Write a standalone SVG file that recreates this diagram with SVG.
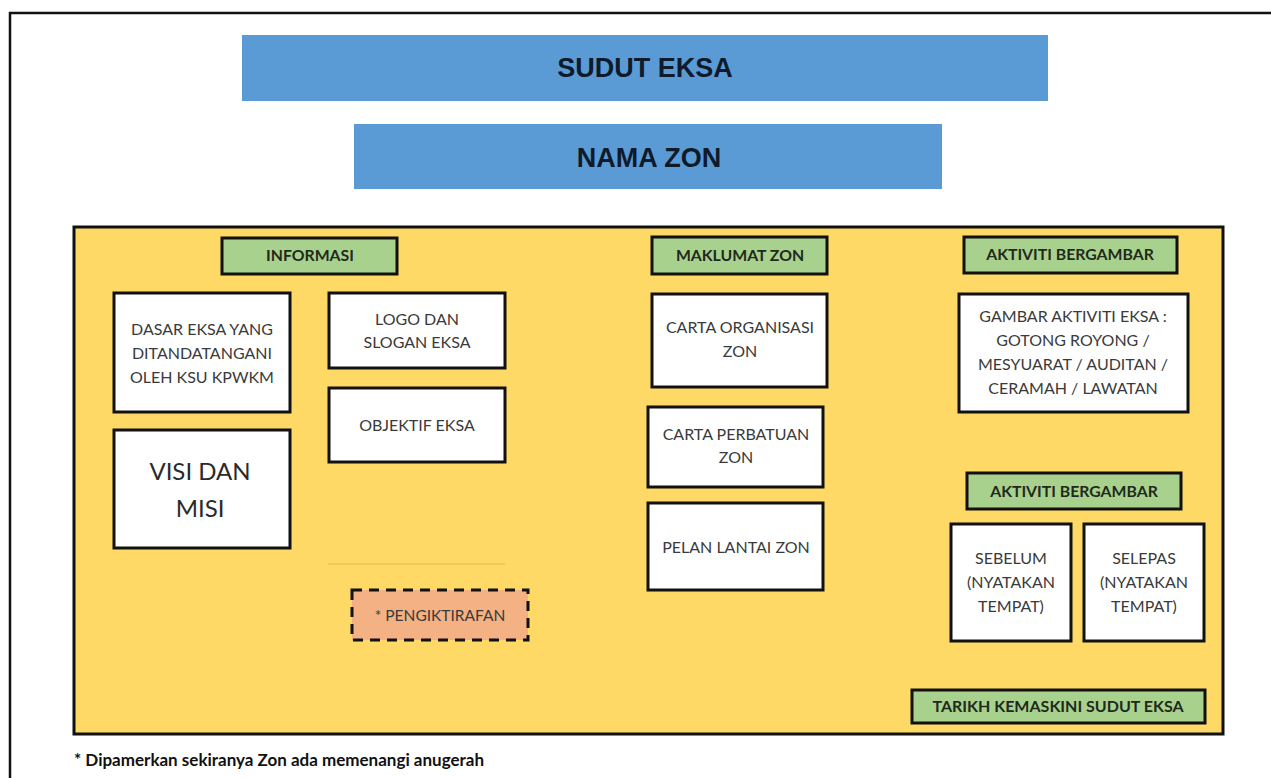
<svg xmlns="http://www.w3.org/2000/svg" width="1271" height="778" viewBox="0 0 1271 778">
<style>
.title{font-family:"Liberation Sans",Arial,sans-serif;font-weight:bold;font-size:27px;fill:#0f1a2a;text-anchor:middle}
.lbl{font-family:Lato,"Open Sans",sans-serif;font-weight:bold;font-size:15.8px;fill:#1f2a1c;text-anchor:middle}
.txt{font-family:Lato,"Open Sans",sans-serif;font-size:16px;fill:#3a3a3a;text-anchor:middle}
.big{font-family:Lato,"Open Sans",sans-serif;font-size:24px;fill:#2a2a2a;text-anchor:middle}
.blue{fill:#5B9BD5}
.green{fill:#A9D18E;stroke:#111;stroke-width:3}
.white{fill:#fff;stroke:#111;stroke-width:3}
</style>
<rect width="1271" height="778" fill="#fff"/>
<g id="frame">
<path d="M10,778 V13 H1271" fill="none" stroke="#111" stroke-width="2.5"/>
</g>
<g id="sudut-eksa">
<rect class="blue" x="242" y="35" width="806" height="66"/>
<text class="title" x="645" y="77">SUDUT EKSA</text>
</g>
<g id="nama-zon">
<rect class="blue" x="354" y="124" width="588" height="65"/>
<text class="title" x="649" y="167">NAMA ZON</text>
</g>
<g id="zone-panel">
<rect x="74" y="227" width="1149" height="507" fill="#FFD966" stroke="#111" stroke-width="3"/>
<line x1="328" y1="564" x2="505" y2="564" stroke="#E6B94E" stroke-width="1"/>
</g>
<g id="informasi">
<rect class="green" x="222" y="238" width="175" height="36"/>
<text class="lbl" x="310" y="261">INFORMASI</text>
</g>
<g id="dasar-eksa">
<rect class="white" x="114" y="293" width="176" height="119"/>
<text class="txt" x="202" y="335">DASAR EKSA YANG</text>
<text class="txt" x="202" y="359">DITANDATANGANI</text>
<text class="txt" x="202" y="383">OLEH KSU KPWKM</text>
</g>
<g id="visi-misi">
<rect class="white" x="114" y="430" width="176" height="118"/>
<text class="big" x="200" y="480">VISI DAN</text>
<text class="big" x="200" y="517">MISI</text>
</g>
<g id="logo-slogan">
<rect class="white" x="329" y="293" width="176" height="75"/>
<text class="txt" x="417" y="325">LOGO DAN</text>
<text class="txt" x="417" y="348">SLOGAN EKSA</text>
</g>
<g id="objektif">
<rect class="white" x="329" y="388" width="176" height="74"/>
<text class="txt" x="417" y="431">OBJEKTIF EKSA</text>
</g>
<g id="pengiktirafan">
<rect x="352" y="590" width="176" height="50" fill="#F4B183" stroke="#111" stroke-width="3" stroke-dasharray="10,7"/>
<text class="txt" x="440" y="621" style="font-size:15.5px">* PENGIKTIRAFAN</text>
</g>
<g id="maklumat-zon">
<rect class="green" x="652" y="237" width="175" height="37"/>
<text class="lbl" x="740" y="261">MAKLUMAT ZON</text>
</g>
<g id="carta-organisasi">
<rect class="white" x="652" y="294" width="175" height="93"/>
<text class="txt" x="740" y="333">CARTA ORGANISASI</text>
<text class="txt" x="740" y="357">ZON</text>
</g>
<g id="carta-perbatuan">
<rect class="white" x="648" y="407" width="175" height="80"/>
<text class="txt" x="736" y="440">CARTA PERBATUAN</text>
<text class="txt" x="736" y="463">ZON</text>
</g>
<g id="pelan-lantai">
<rect class="white" x="648" y="503" width="175" height="87"/>
<text class="txt" x="736" y="553">PELAN LANTAI ZON</text>
</g>
<g id="aktiviti-bergambar-1">
<rect class="green" x="964" y="237" width="213" height="36"/>
<text class="lbl" x="1070" y="260">AKTIVITI BERGAMBAR</text>
</g>
<g id="gambar-aktiviti">
<rect class="white" x="959" y="294" width="229" height="118"/>
<text class="txt" x="1073" y="322">GAMBAR AKTIVITI EKSA :</text>
<text class="txt" x="1073" y="346">GOTONG ROYONG /</text>
<text class="txt" x="1073" y="370">MESYUARAT / AUDITAN /</text>
<text class="txt" x="1073" y="394">CERAMAH / LAWATAN</text>
</g>
<g id="aktiviti-bergambar-2">
<rect class="green" x="967" y="473" width="214" height="36"/>
<text class="lbl" x="1074" y="497">AKTIVITI BERGAMBAR</text>
</g>
<g id="sebelum">
<rect class="white" x="951" y="524" width="120" height="117"/>
<text class="txt" x="1011" y="564">SEBELUM</text>
<text class="txt" x="1011" y="588">(NYATAKAN</text>
<text class="txt" x="1011" y="612">TEMPAT)</text>
</g>
<g id="selepas">
<rect class="white" x="1084" y="524" width="120" height="117"/>
<text class="txt" x="1144" y="564">SELEPAS</text>
<text class="txt" x="1144" y="588">(NYATAKAN</text>
<text class="txt" x="1144" y="612">TEMPAT)</text>
</g>
<g id="tarikh-kemaskini">
<rect class="green" x="912" y="690" width="293" height="33"/>
<text class="lbl" x="1058" y="712" style="font-size:16px">TARIKH KEMASKINI SUDUT EKSA</text>
</g>
<g id="connectors"></g>
<g id="footnote">
<text x="74" y="766" style="font-family:Lato,'Open Sans',sans-serif;font-weight:bold;font-size:17px;fill:#111">* Dipamerkan sekiranya Zon ada memenangi anugerah</text>
</g>
</svg>
